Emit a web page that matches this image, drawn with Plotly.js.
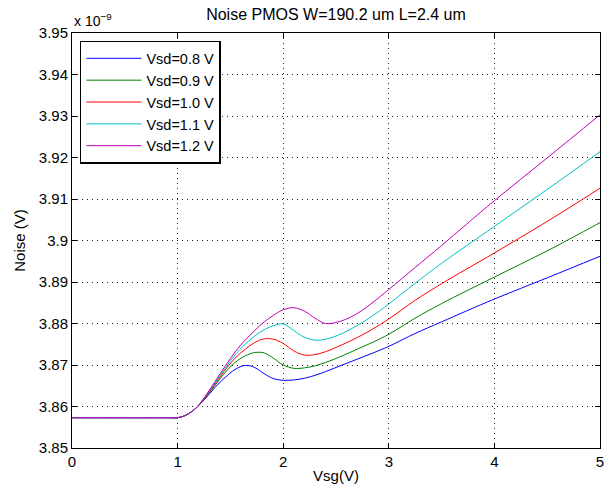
<!DOCTYPE html>
<html>
<head>
<meta charset="utf-8">
<script src="https://cdn.plot.ly/plotly-3.0.1.min.js"></script>
<style>html,body{margin:0;padding:0;background:#fff;}#chart{width:610px;height:497px;}</style>
</head>
<body>
<div id="chart"></div>
<script>
// Vsg (V)
const vsg = [0, 0.5, 0.9, 1.0, 1.07, 1.165, 1.26, 1.354, 1.45, 1.543, 1.64, 1.73, 1.82, 1.91, 2.0, 2.1, 2.2, 2.3, 2.4, 2.55, 2.7, 2.85, 3.0, 3.25, 3.5, 4.0, 4.5, 5.0];
// Noise (x 1e-9 V)
const vsd08 = [3.8573, 3.8573, 3.8573, 3.8573, 3.8578, 3.8594, 3.8618, 3.8646, 3.8670, 3.8689, 3.8699, 3.8694, 3.8679, 3.8667, 3.8663, 3.8664, 3.8668, 3.8675, 3.8684, 3.8699, 3.8714, 3.8729, 3.8745, 3.8776, 3.8804, 3.8859, 3.8910, 3.8962];
const vsd09 = [3.8573, 3.8573, 3.8573, 3.8573, 3.8578, 3.8594, 3.8620, 3.8651, 3.8682, 3.8706, 3.8722, 3.8730, 3.8729, 3.8716, 3.8700, 3.8692, 3.8693, 3.8698, 3.8706, 3.8721, 3.8738, 3.8755, 3.8774, 3.8813, 3.8848, 3.8912, 3.8975, 3.9043];
const vsd10 = [3.8573, 3.8573, 3.8573, 3.8573, 3.8578, 3.8594, 3.8621, 3.8654, 3.8688, 3.8716, 3.8738, 3.8754, 3.8763, 3.8762, 3.8752, 3.8734, 3.8724, 3.8725, 3.8732, 3.8748, 3.8766, 3.8787, 3.8811, 3.8856, 3.8896, 3.8970, 3.9046, 3.9126];
const vsd11 = [3.8573, 3.8573, 3.8573, 3.8573, 3.8578, 3.8594, 3.8623, 3.8657, 3.8692, 3.8724, 3.8750, 3.8770, 3.8785, 3.8795, 3.8799, 3.8783, 3.8767, 3.8760, 3.8762, 3.8775, 3.8795, 3.8819, 3.8847, 3.8897, 3.8945, 3.9034, 3.9123, 3.9214];
const vsd12 = [3.8573, 3.8573, 3.8573, 3.8573, 3.8578, 3.8594, 3.8624, 3.8660, 3.8697, 3.8731, 3.8760, 3.8783, 3.8804, 3.8820, 3.8833, 3.8838, 3.8830, 3.8813, 3.8800, 3.8806, 3.8824, 3.8851, 3.8882, 3.8935, 3.8988, 3.9096, 3.9199, 3.9303];

const seriesNames = ['Vsd=0.8 V', 'Vsd=0.9 V', 'Vsd=1.0 V', 'Vsd=1.1 V', 'Vsd=1.2 V'];
const seriesColors = ['#0000ff', '#008000', '#ff0000', '#00bfbf', '#bf00bf'];
const seriesValues = [vsd08, vsd09, vsd10, vsd11, vsd12];

const yTickVals = [3.85, 3.86, 3.87, 3.88, 3.89, 3.9, 3.91, 3.92, 3.93, 3.94, 3.95];
const yTickText = ['3.85', '3.86', '3.87', '3.88', '3.89', '3.9', '3.91', '3.92', '3.93', '3.94', '3.95'];
const xTickVals = [0, 1, 2, 3, 4, 5];

const traces = seriesValues.map((vals, i) => ({
  x: vsg, y: vals, type: 'scatter', mode: 'lines', name: seriesNames[i],
  line: {color: seriesColors[i], width: 1, shape: 'spline', smoothing: 1}
}));

const fam = 'Liberation Sans, Arial, sans-serif';
const tickFont = {family: fam, size: 15, color: '#000'};
const axisCommon = {
  showline: true, linecolor: '#000', linewidth: 1, mirror: 'ticks',
  ticks: 'inside', ticklen: 5, tickcolor: '#000', tickwidth: 1,
  showgrid: true, gridcolor: '#222', griddash: '1px,4px', gridwidth: 1,
  zeroline: false, tickfont: tickFont
};

const layout = {
  width: 610, height: 497,
  margin: {l: 72, r: 10, t: 33, b: 49},
  paper_bgcolor: '#fff', plot_bgcolor: '#fff',
  font: {family: fam, size: 15, color: '#000'},
  title: {text: 'Noise PMOS W=190.2 um L=2.4 um', font: {family: fam, size: 16, color: '#000'},
          x: 0.5, xref: 'paper', xanchor: 'center', y: 0.972, yanchor: 'middle'},
  xaxis: Object.assign({}, axisCommon, {
    range: [0, 5], tickvals: xTickVals,
    title: {text: 'Vsg(V)', font: {family: fam, size: 15, color: '#000'}, standoff: 1}
  }),
  yaxis: Object.assign({}, axisCommon, {
    range: [3.85, 3.95], tickvals: yTickVals, ticktext: yTickText,
    title: {text: 'Noise (V)', font: {family: fam, size: 15, color: '#000'}, standoff: 9}
  }),
  showlegend: true,
  legend: {
    x: 0.015, y: 0.981, xanchor: 'left', yanchor: 'top',
    bgcolor: '#fff', bordercolor: '#000', borderwidth: 1.5,
    font: {family: fam, size: 14.5, color: '#000'},
    tracegroupgap: 0, itemwidth: 55
  },
  annotations: [{
    text: 'x 10<sup>\u22129</sup>', xref: 'paper', yref: 'paper',
    x: 0, y: 1, xanchor: 'left', yanchor: 'bottom', yshift: 2,
    showarrow: false, font: {family: fam, size: 14, color: '#000'}
  }]
};

Plotly.newPlot('chart', traces, layout, {displayModeBar: false, staticPlot: true});
</script>
</body>
</html>
